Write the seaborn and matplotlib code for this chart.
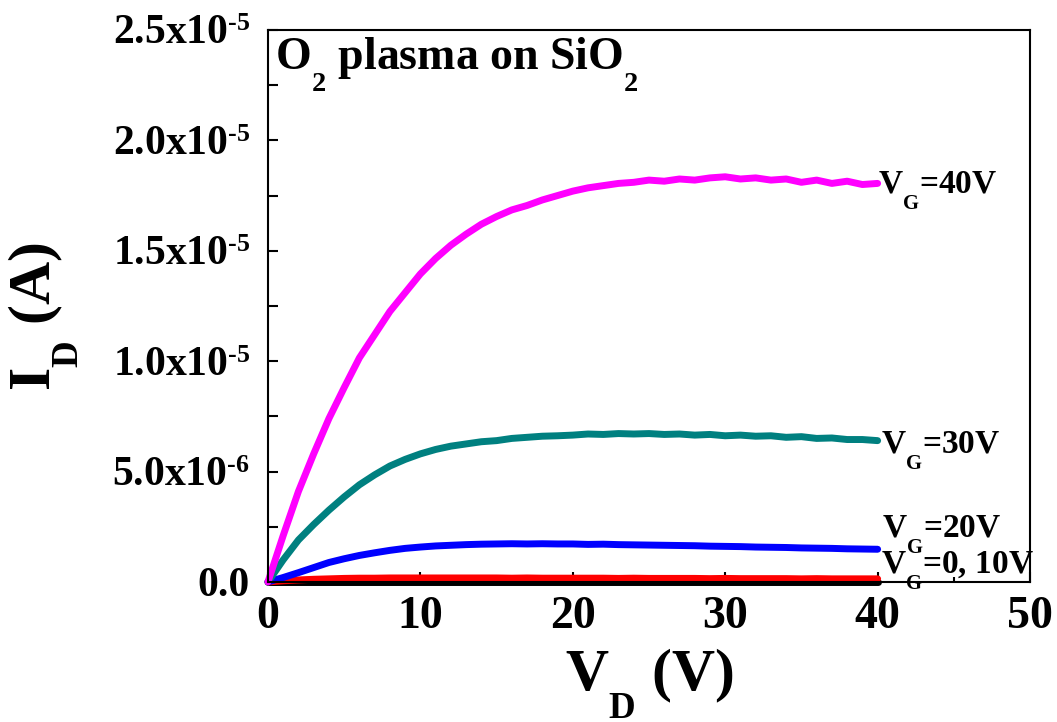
import numpy as np
import pandas as pd
import matplotlib
matplotlib.use('Agg')
import matplotlib.pyplot as plt
import matplotlib.ticker as mticker
import seaborn as sns

# drain voltage (V) and drain current (uA) for each gate voltage
vd = list(range(0, 41))
id_0 = [0.0] * 41
id_10 = [0.0, 0.05, 0.09, 0.12, 0.14, 0.16, 0.17, 0.17, 0.18, 0.18, 0.18,
         0.18, 0.18, 0.18, 0.18, 0.18, 0.17, 0.18, 0.17, 0.17, 0.17,
         0.17, 0.17, 0.16, 0.17, 0.16, 0.16, 0.16, 0.16, 0.15, 0.16,
         0.15, 0.15, 0.15, 0.15, 0.14, 0.15, 0.14, 0.14, 0.14, 0.14]
id_20 = [0.0, 0.2, 0.42, 0.65, 0.88, 1.05, 1.2, 1.32, 1.43, 1.52, 1.58,
         1.63, 1.66, 1.69, 1.71, 1.72, 1.73, 1.72, 1.73, 1.72, 1.72,
         1.7, 1.71, 1.69, 1.68, 1.67, 1.66, 1.65, 1.64, 1.62, 1.61,
         1.6, 1.58, 1.57, 1.56, 1.54, 1.53, 1.52, 1.5, 1.49, 1.48]
id_30 = [0.0, 1.0, 1.9, 2.6, 3.25, 3.85, 4.4, 4.85, 5.25, 5.55, 5.8,
         6.0, 6.15, 6.25, 6.35, 6.4, 6.5, 6.55, 6.6, 6.62, 6.65,
         6.7, 6.68, 6.72, 6.7, 6.72, 6.68, 6.7, 6.65, 6.68, 6.62,
         6.65, 6.6, 6.62, 6.55, 6.58, 6.5, 6.52, 6.45, 6.45, 6.4]
id_40 = [0.0, 2.1, 4.1, 5.8, 7.4, 8.8, 10.15, 11.2, 12.25, 13.1, 13.95,
         14.65, 15.25, 15.75, 16.2, 16.55, 16.85, 17.05, 17.3, 17.5, 17.7,
         17.85, 17.95, 18.05, 18.1, 18.2, 18.15, 18.25, 18.2, 18.3, 18.35,
         18.25, 18.3, 18.2, 18.25, 18.1, 18.2, 18.05, 18.15, 18.0, 18.05]

gate_labels = ['0V', '10V', '20V', '30V', '40V']
colors = {'0V': 'black', '10V': '#ff0000', '20V': '#0000ff',
          '30V': '#008080', '40V': '#ff00ff'}

sns.set_style('ticks')
plt.rcParams['font.family'] = ['Liberation Serif', 'DejaVu Serif']
plt.rcParams['font.weight'] = 'bold'
plt.rcParams['axes.labelweight'] = 'bold'
plt.rcParams['text.color'] = 'black'
plt.rcParams['axes.labelcolor'] = 'black'
plt.rcParams['xtick.color'] = 'black'
plt.rcParams['ytick.color'] = 'black'
plt.rcParams['mathtext.fontset'] = 'custom'
plt.rcParams['mathtext.rm'] = 'Liberation Serif:bold'
plt.rcParams['mathtext.it'] = 'Liberation Serif:bold'
plt.rcParams['mathtext.bf'] = 'Liberation Serif:bold'

# Origin-style subscripts sit lower and smaller than the mathtext defaults
try:
    import matplotlib._mathtext as _mt
    _mt.FontConstantsBase.sub1 = 1.05
    _mt.SHRINK_FACTOR = 0.62
except Exception:
    pass

frames = []
for name, cur in zip(gate_labels, [id_0, id_10, id_20, id_30, id_40]):
    frames.append(pd.DataFrame({'VD': vd, 'ID': np.array(cur) * 1e-6, 'VG': name}))
df = pd.concat(frames, ignore_index=True)

fig = plt.figure(figsize=(10.57, 7.22), dpi=100)
ax = fig.add_axes([0.2535, 0.194, 0.7210, 0.7645])

sns.lineplot(data=df, x='VD', y='ID', hue='VG', hue_order=gate_labels,
             palette=colors, linewidth=5, legend=False, ax=ax,
             estimator=None, sort=False, clip_on=False,
             solid_joinstyle='round', solid_capstyle='round')

ax.set_xlim(0, 50)
ax.set_ylim(0, 2.5e-5)
ax.xaxis.set_major_locator(mticker.MultipleLocator(10))
ax.xaxis.set_minor_locator(mticker.MultipleLocator(5))
ax.yaxis.set_major_locator(mticker.MultipleLocator(5e-6))
ax.yaxis.set_minor_locator(mticker.MultipleLocator(2.5e-6))


def sci_label(v, pos):
    if abs(v) < 1e-12:
        return '0.0'
    exp = int(np.floor(np.log10(abs(v))))
    mant = v / 10 ** exp
    return '%.1fx10$^{\u2010%d}$' % (mant, -exp)


ax.yaxis.set_major_formatter(mticker.FuncFormatter(sci_label))

ax.tick_params(axis='both', which='both', direction='in', top=False, right=False, width=1.5)
ax.tick_params(axis='x', which='major', length=7, labelsize=33, pad=10)
ax.tick_params(axis='x', which='minor', length=3.5)
ax.tick_params(axis='y', which='both', length=7, labelsize=30, pad=13)
for sp in ax.spines.values():
    sp.set_linewidth(1.5)
    sp.set_color('black')

ax.set_xlabel('V$_\\mathregular{D}$ (V)', fontsize=43, labelpad=6)
ax.set_ylabel('I$_\\mathregular{D}$ (A)', fontsize=43)
ax.yaxis.set_label_coords(-0.245, 0.48)

ax.text(0.45, 2.32e-5, 'O$_\\mathregular{2}$ plasma on SiO$_\\mathregular{2}$',
        fontsize=33, va='baseline', ha='left')
ax.text(40.0, 1.76e-5, 'V$_\\mathregular{G}$=40V', fontsize=24, va='baseline')
ax.text(40.2, 5.84e-6, 'V$_\\mathregular{G}$=30V', fontsize=24, va='baseline')
ax.text(40.3, 2.04e-6, 'V$_\\mathregular{G}$=20V', fontsize=24, va='baseline')
ax.text(40.2, 4.1e-7, 'V$_\\mathregular{G}$=0, 10V', fontsize=24, va='baseline')

fig.savefig('out.png', dpi=100)
